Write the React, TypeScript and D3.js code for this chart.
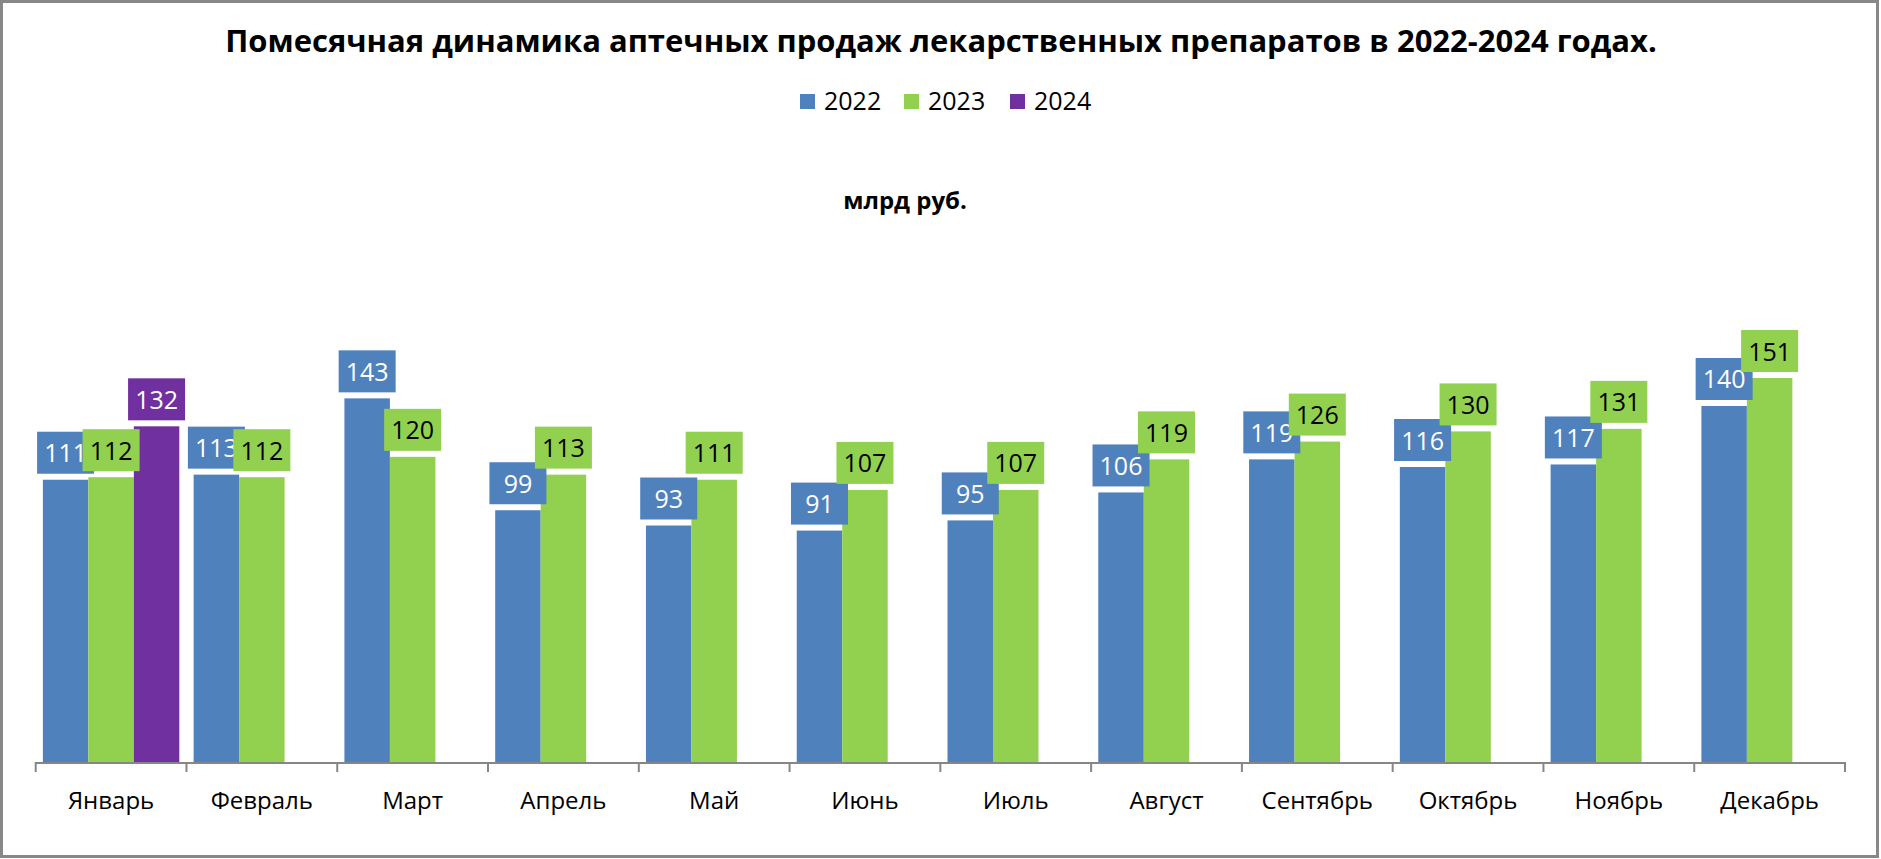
import React, { useEffect } from 'react';
import * as d3 from 'd3';

const months = ['Январь', 'Февраль', 'Март', 'Апрель', 'Май', 'Июнь', 'Июль', 'Август', 'Сентябрь', 'Октябрь', 'Ноябрь', 'Декабрь'];
const seriesNames = ['2022', '2023', '2024'];
const values2022 = [111, 113, 143, 99, 93, 91, 95, 106, 119, 116, 117, 140];
const values2023 = [112, 112, 120, 113, 111, 107, 107, 119, 126, 130, 131, 151];
const values2024: (number | null)[] = [132, null, null, null, null, null, null, null, null, null, null, null];
const seriesColors = ['#4F81BD', '#92D050', '#7030A0'];
const labelTextColors = ['#FFFFFF', '#000000', '#FFFFFF'];

const W = 1881;
const H = 859;
const FONT = "'Open Sans', 'Noto Sans', sans-serif";

export default function App() {
  useEffect(() => {
    document.body.style.margin = '0';
  }, []);

  const allSeries = [values2022, values2023, values2024];
  const x = d3.scaleBand<string>().domain(months).range([35.7, 1845]).paddingInner(0.095).paddingOuter(0.0475);
  const xs = d3.scaleBand<string>().domain(seriesNames).range([0, x.bandwidth()]).padding(0);
  const y = d3.scaleLinear().domain([0, 200]).range([762, 762 - 200 * 2.543]);

  const step = x.step();
  const x0 = x.range()[0];
  const boundaries = d3.range(months.length + 1).map((i) => x0 + i * step);

  const bars: JSX.Element[] = [];
  const labels: JSX.Element[] = [];
  allSeries.forEach((vals, si) => {
    vals.forEach((v, mi) => {
      if (v == null) return;
      const bx = (x(months[mi]) as number) + (xs(seriesNames[si]) as number);
      const bw = xs.bandwidth();
      bars.push(
        <rect key={`b-${si}-${mi}`} x={bx} y={y(v)} width={bw} height={y(0) - y(v)} fill={seriesColors[si]} />
      );
      const cx = bx + bw / 2;
      const boxW = 57;
      const boxH = 42;
      const boxBottom = y(v) - 6;
      labels.push(
        <g key={`l-${si}-${mi}`}>
          <rect x={cx - boxW / 2} y={boxBottom - boxH} width={boxW} height={boxH} fill={seriesColors[si]} />
          <text x={cx} y={boxBottom - 11.5} textAnchor="middle" fontSize={25} fontFamily={FONT} fill={labelTextColors[si]}>
            {v}
          </text>
        </g>
      );
    });
  });

  const legendX = [800, 904, 1010];

  return (
    <div style={{ position: 'absolute', left: 0, top: 0 }}>
      <svg width={W} height={H} style={{ display: 'block', background: '#fff' }}>
        <rect x={1.5} y={1.5} width={W - 5} height={H - 4} fill="#fff" stroke="#888888" strokeWidth={3} />
        <text x={941} y={52} textAnchor="middle" fontSize={31} fontWeight="bold" fontFamily={FONT} fill="#000">
          Помесячная динамика аптечных продаж лекарственных препаратов в 2022-2024 годах.
        </text>
        {seriesNames.map((s, i) => (
          <g key={`lg-${s}`}>
            <rect x={legendX[i]} y={94} width={15} height={15} fill={seriesColors[i]} />
            <text x={legendX[i] + 24} y={110} fontSize={25} fontFamily={FONT} fill="#000">
              {s}
            </text>
          </g>
        ))}
        <text x={905} y={209} textAnchor="middle" fontSize={24} fontWeight="bold" fontFamily={FONT} fill="#000">
          млрд руб.
        </text>
        {bars}
        <line x1={boundaries[0]} x2={boundaries[boundaries.length - 1]} y1={y(0) + 1} y2={y(0) + 1} stroke="#868686" strokeWidth={2} />
        {boundaries.map((b, i) => (
          <line key={`t-${i}`} x1={b} x2={b} y1={y(0)} y2={y(0) + 10} stroke="#868686" strokeWidth={2} />
        ))}
        {months.map((m) => (
          <text
            key={`m-${m}`}
            x={(x(m) as number) + x.bandwidth() / 2}
            y={809}
            textAnchor="middle"
            fontSize={24}
            fontFamily={FONT}
            fill="#000"
          >
            {m}
          </text>
        ))}
        {labels}
      </svg>
    </div>
  );
}
